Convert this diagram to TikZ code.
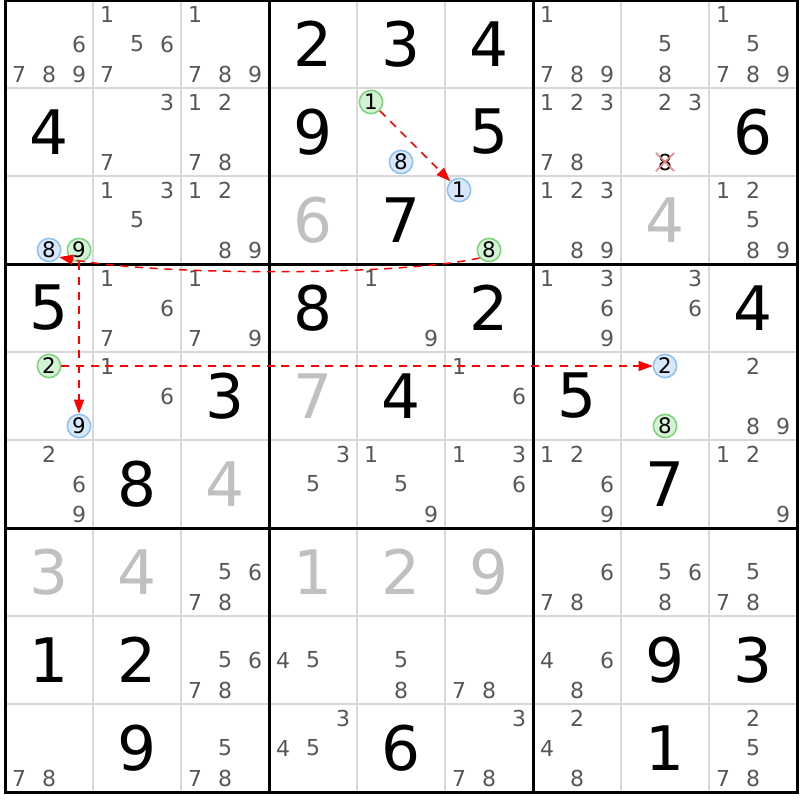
\documentclass[tikz,border=0pt]{standalone}
\usepackage{fontspec}
\setmainfont{DejaVu Sans}
\usetikzlibrary{arrows.meta,shapes.misc}

\definecolor{gridgray}{RGB}{216,216,216}
\definecolor{candgray}{RGB}{88,88,88}
\definecolor{solvedgray}{RGB}{192,192,192}
\definecolor{greenring}{RGB}{120,210,120}
\definecolor{greenfill}{RGB}{212,242,212}
\definecolor{bluering}{RGB}{140,190,240}
\definecolor{bluefill}{RGB}{216,232,252}
\definecolor{crossred}{RGB}{240,130,130}

% pencil marks of one cell: row, column, digits
\newcommand{\candlist}[3]{%
  \foreach \k in {#3}
    \node[cand] (r#1c#2-\k) at ({88*#2-69+30*mod(\k-1,3)},{88*#1-74+30*int((\k-1)/3)}) {\k};}

\begin{document}
\begin{tikzpicture}[x=0.75pt,y=-0.75pt,
		cellline/.style={draw=gridgray,line width=1.5pt},
		boxline/.style={draw=black,line width=2.25pt},
		given/.style={font=\fontsize{46}{46}\selectfont,text=black,inner sep=0pt},
		solved/.style={given,text=solvedgray},
		cand/.style={font=\fontsize{16.5}{16.5}\selectfont,text=candgray,inner sep=0pt},
		greencand/.style={circle,draw=greenring,fill=greenfill,line width=1.1pt,minimum size=17.5pt,inner sep=0pt,text=black,font=\fontsize{16}{16}\selectfont},
		bluecand/.style={greencand,draw=bluering,fill=bluefill},
		crossed/.style={cand,text=black,cross out,draw=crossred,line width=1.2pt,minimum size=12.5pt},
		chain/.style={draw=red,line width=1.1pt,dash pattern=on 6pt off 5pt,-{Triangle[length=10.5pt,width=7.5pt]}}]
	\fill[white] (0,0) rectangle (800,800);
	\useasboundingbox (0,0) rectangle (800,800);
	% grid
	\foreach \i in {1,...,8} {
		\draw[cellline] ({5+88*\i},0) -- ({5+88*\i},792);
		\draw[cellline] (5,{88*\i}) -- (797,{88*\i});
	}
	\foreach \i in {3,6} {
		\draw[boxline] ({5+88*\i},0) -- ({5+88*\i},792);
		\draw[boxline] (5,{88*\i}) -- (797,{88*\i});
	}
	\draw[boxline] (5,0) rectangle (797,792);
	% givens
	\node[given] (r1c4) at (313,44) {2};
	\node[given] (r1c5) at (401,44) {3};
	\node[given] (r1c6) at (489,44) {4};
	\node[given] (r2c1) at (49,132) {4};
	\node[given] (r2c4) at (313,132) {9};
	\node[given] (r2c6) at (489,132) {5};
	\node[given] (r2c9) at (753,132) {6};
	\node[given] (r3c5) at (401,220) {7};
	\node[given] (r4c1) at (49,308) {5};
	\node[given] (r4c4) at (313,308) {8};
	\node[given] (r4c6) at (489,308) {2};
	\node[given] (r4c9) at (753,308) {4};
	\node[given] (r5c3) at (225,396) {3};
	\node[given] (r5c5) at (401,396) {4};
	\node[given] (r5c7) at (577,396) {5};
	\node[given] (r6c2) at (137,484) {8};
	\node[given] (r6c8) at (665,484) {7};
	\node[given] (r8c1) at (49,660) {1};
	\node[given] (r8c2) at (137,660) {2};
	\node[given] (r8c8) at (665,660) {9};
	\node[given] (r8c9) at (753,660) {3};
	\node[given] (r9c2) at (137,748) {9};
	\node[given] (r9c5) at (401,748) {6};
	\node[given] (r9c8) at (665,748) {1};
	% solved cells
	\node[solved] (r3c4) at (313,220) {6};
	\node[solved] (r3c8) at (665,220) {4};
	\node[solved] (r5c4) at (313,396) {7};
	\node[solved] (r6c3) at (225,484) {4};
	\node[solved] (r7c1) at (49,572) {3};
	\node[solved] (r7c2) at (137,572) {4};
	\node[solved] (r7c4) at (313,572) {1};
	\node[solved] (r7c5) at (401,572) {2};
	\node[solved] (r7c6) at (489,572) {9};
	% candidates
	\candlist{1}{1}{6,7,8,9}
	\candlist{1}{2}{1,5,6,7}
	\candlist{1}{3}{1,7,8,9}
	\candlist{1}{7}{1,7,8,9}
	\candlist{1}{8}{5,8}
	\candlist{1}{9}{1,5,7,8,9}
	\candlist{2}{2}{3,7}
	\candlist{2}{3}{1,2,7,8}
	\candlist{2}{7}{1,2,3,7,8}
	\candlist{2}{8}{2,3}
	\candlist{3}{2}{1,3,5}
	\candlist{3}{3}{1,2,8,9}
	\candlist{3}{7}{1,2,3,8,9}
	\candlist{3}{9}{1,2,5,8,9}
	\candlist{4}{2}{1,6,7}
	\candlist{4}{3}{1,7,9}
	\candlist{4}{5}{1,9}
	\candlist{4}{7}{1,3,6,9}
	\candlist{4}{8}{3,6}
	\candlist{5}{2}{1,6}
	\candlist{5}{6}{1,6}
	\candlist{5}{9}{2,8,9}
	\candlist{6}{1}{2,6,9}
	\candlist{6}{4}{3,5}
	\candlist{6}{5}{1,5,9}
	\candlist{6}{6}{1,3,6}
	\candlist{6}{7}{1,2,6,9}
	\candlist{6}{9}{1,2,9}
	\candlist{7}{3}{5,6,7,8}
	\candlist{7}{7}{6,7,8}
	\candlist{7}{8}{5,6,8}
	\candlist{7}{9}{5,7,8}
	\candlist{8}{3}{5,6,7,8}
	\candlist{8}{4}{4,5}
	\candlist{8}{5}{5,8}
	\candlist{8}{6}{7,8}
	\candlist{8}{7}{4,6,8}
	\candlist{9}{1}{7,8}
	\candlist{9}{3}{5,7,8}
	\candlist{9}{4}{3,4,5}
	\candlist{9}{6}{3,7,8}
	\candlist{9}{7}{2,4,8}
	\candlist{9}{9}{2,5,7,8}
	% chain candidates
	\node[greencand] (r2c5-1) at (371,102) {1};
	\node[bluecand] (r2c5-8) at (401,162) {8};
	\node[bluecand] (r3c6-1) at (459,190) {1};
	\node[greencand] (r3c6-8) at (489,250) {8};
	\node[bluecand] (r3c1-8) at (49,250) {8};
	\node[greencand] (r3c1-9) at (79,250) {9};
	\node[greencand] (r5c1-2) at (49,366) {2};
	\node[bluecand] (r5c1-9) at (79,426) {9};
	\node[bluecand] (r5c8-2) at (665,366) {2};
	\node[greencand] (r5c8-8) at (665,426) {8};
	\node[crossed] (r2c8-8) at (665,162) {8};
	% links
	\draw[chain] (r2c5-1) -- (r3c6-1);
	\draw[chain] (r3c6-8.220) .. controls (400,276) and (160,276) .. (r3c1-8.-35);
	\draw[chain] (r3c1-9) -- (r5c1-9);
	\draw[chain] (r5c1-2) -- (r5c8-2);
\end{tikzpicture}
\end{document}
